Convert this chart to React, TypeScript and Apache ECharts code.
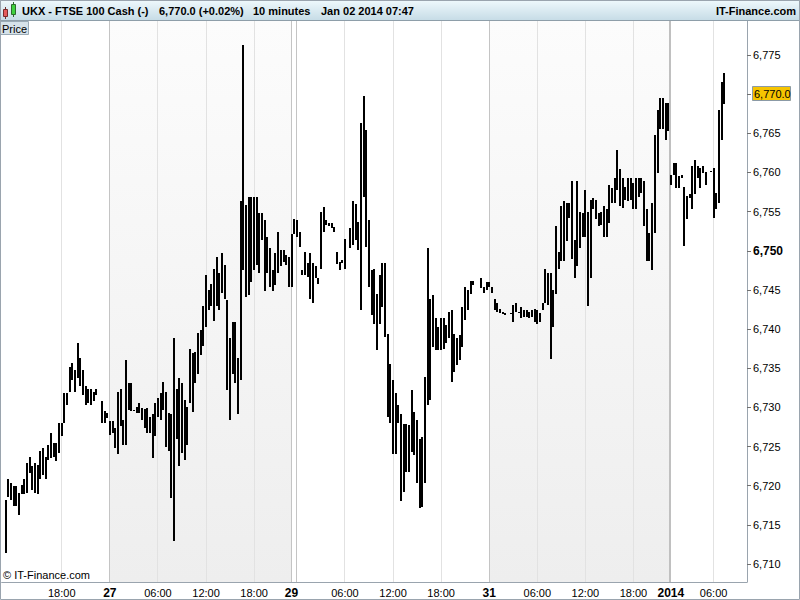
import React, { useEffect, useRef } from 'react';
import * as echarts from 'echarts';

const FONT = '"Liberation Sans", Arial, Helvetica, sans-serif';

// 20-minute slots per trading day: [label, start minute of day, number of slots]
const daySegments: [string, number, number][] = [
  ['Dec 26', 10 * 60 + 40, 40],
  ['Dec 27', 0, 68],
  ['Dec 29', 23 * 60 + 20, 2],
  ['Dec 30', 0, 72],
  ['Dec 31', 0, 68],
  ['Jan 02', 40, 29],
];

// [low, high] per 20-minute slot (null = no trade)
const bars26: (number[] | null)[] = [
  null,
  [6711.4, 6718.2], [6718.6, 6720.8], [6718.2, 6720.3], [6717.4, 6719.9], [6717.4, 6719.9], [6716.3, 6719.1], [6718.9, 6720.1], [6718.9, 6720.8], [6719.1, 6722.9], [6721.6, 6723.7],
  [6719.5, 6722.5], [6719.1, 6722.9], [6718.9, 6722.7], [6720.8, 6724.4], [6721.4, 6724.8], [6720.8, 6723.7], [6723.3, 6725.2], [6723.5, 6726.7], [6723.7, 6725.4], [6723.1, 6725.4],
  [6724.2, 6728.0], [6726.3, 6728.0], [6728.0, 6731.8], [6730.3, 6731.8], [6732.0, 6735.2], [6733.5, 6735.7], [6732.0, 6734.8], [6733.7, 6738.2], [6732.7, 6736.3], [6731.6, 6734.8],
  [6730.3, 6732.7], [6730.5, 6732.3], [6730.3, 6732.3], [6730.8, 6732.0], [6731.6, 6732.3], null, [6728.0, 6730.8], [6728.0, 6729.5], [6728.6, 6729.3],
];
const bars27: (number[] | null)[] = [
  [6726.5, 6728.2], [6726.7, 6728.2], [6724.8, 6727.4], [6724.0, 6732.0], [6727.6, 6732.3], [6725.2, 6728.4], [6725.2, 6736.1], [6729.7, 6733.1], [6729.5, 6733.1], [6729.5, 6729.7],
  [6729.3, 6730.1], [6729.3, 6730.5], [6728.4, 6729.9], [6727.4, 6729.8], [6726.7, 6729.9], [6726.7, 6728.8], [6723.5, 6729.1], [6726.3, 6730.5], [6728.8, 6731.2], [6728.4, 6731.8],
  [6729.7, 6733.3], [6725.0, 6732.0], [6724.4, 6729.3], [6718.4, 6729.1], [6712.9, 6738.8], [6725.9, 6732.3], [6722.5, 6733.7], [6724.2, 6733.1], [6723.3, 6731.0], [6725.2, 6730.1],
  [6730.5, 6737.4], [6729.4, 6736.9], [6733.1, 6737.1], [6734.3, 6739.5], [6736.7, 6739.9], [6737.8, 6742.9], [6740.3, 6746.9], [6742.4, 6745.0], [6742.9, 6745.8], [6741.0, 6747.7],
  [6742.9, 6749.2], [6742.4, 6747.1], [6744.6, 6749.7], [6743.9, 6748.2], [6732.2, 6743.7], [6728.4, 6738.8], [6734.3, 6740.9], [6733.1, 6740.9], [6729.2, 6736.3], [6733.5, 6756.3],
  [6747.5, 6776.3], [6744.1, 6755.8], [6744.3, 6756.9], [6746.0, 6756.9], [6747.5, 6756.9], [6748.2, 6756.9], [6747.1, 6754.8], [6751.4, 6754.8], [6744.8, 6753.9], [6747.1, 6751.8],
  [6745.4, 6750.3], [6744.8, 6747.5], [6745.6, 6749.7], [6747.1, 6752.4], [6748.0, 6750.1], [6748.6, 6750.1], [6748.2, 6749.5], [6745.4, 6749.2],
];
const bars29: (number[] | null)[] = [[6745.4, 6752.2], [6752.2, 6754.1]];
const bars30: (number[] | null)[] = [
  [6751.8, 6753.9], [6750.5, 6752.4], [6746.9, 6747.5], [6746.9, 6749.9], [6746.7, 6748.4], [6743.9, 6749.7], [6743.3, 6748.4], [6746.5, 6748.0], [6745.8, 6746.5], [6747.7, 6755.0],
  [6752.4, 6755.6], [6753.3, 6753.9], [6753.1, 6753.6], [6752.9, 6753.5], [6752.4, 6753.0], [6748.3, 6749.9], [6747.5, 6748.6], [6748.4, 6748.8], [6747.7, 6751.5], null,
  [6750.3, 6752.9], [6750.7, 6756.3], [6751.4, 6756.0], [6750.1, 6753.7], [6742.4, 6766.3], [6756.9, 6769.7], [6750.5, 6765.4], [6745.4, 6753.9], [6741.8, 6747.5], [6740.7, 6747.7],
  [6737.3, 6744.5], [6740.7, 6746.9], [6742.8, 6748.4], [6739.0, 6748.4], [6728.8, 6739.4], [6728.0, 6735.6], [6724.1, 6733.5], [6724.1, 6731.8], [6728.0, 6730.3], [6718.0, 6729.2],
  [6719.2, 6727.9], [6721.8, 6727.9], [6721.8, 6727.7], [6724.3, 6732.2], [6723.9, 6729.4], [6720.3, 6728.4], [6717.1, 6726.0], [6717.3, 6726.2], [6720.3, 6733.9], [6730.3, 6750.3],
  [6730.9, 6743.9], [6737.7, 6744.3], [6737.3, 6741.4], [6737.3, 6740.3], [6737.3, 6741.4], [6737.5, 6741.4], [6738.2, 6740.5], [6738.8, 6742.2], [6733.3, 6742.4], [6734.5, 6739.4],
  [6735.4, 6738.8], [6736.0, 6739.2], [6737.7, 6742.8], [6741.1, 6745.4], [6742.4, 6745.0], [6744.5, 6746.2], [6745.6, 6746.2], null, null, [6745.2, 6746.5],
  [6744.6, 6745.4], [6745.0, 6746.0],
];
const bars31: (number[] | null)[] = [
  [6745.4, 6746.0], [6744.6, 6745.4], [6742.4, 6743.9], [6742.2, 6743.3], [6742.0, 6742.6], [6741.9, 6742.2], [6741.8, 6742.1], null, [6741.9, 6742.1], [6740.9, 6743.1],
  [6742.2, 6743.3], [6742.0, 6742.2], [6741.4, 6742.8], [6741.6, 6742.4], [6741.6, 6742.4], [6741.4, 6742.2], [6741.6, 6742.4], [6740.9, 6742.6], [6740.7, 6742.4], [6740.9, 6742.0],
  [6742.4, 6743.3], [6743.3, 6747.7], [6743.1, 6747.1], [6736.2, 6747.1], [6740.3, 6745.0], [6744.5, 6753.1], [6747.7, 6749.9], [6748.7, 6755.7], [6748.7, 6756.3], [6751.2, 6756.1],
  [6754.2, 6756.1], [6748.9, 6758.9], [6746.5, 6751.4], [6748.0, 6758.9], [6750.4, 6755.0], [6751.8, 6754.8], [6751.8, 6757.8], [6742.9, 6755.0], [6746.5, 6756.5], [6755.3, 6756.7],
  [6754.0, 6756.5], [6753.1, 6754.8], [6753.3, 6755.0], [6751.8, 6755.7], [6751.8, 6755.3], [6753.5, 6758.4], [6756.1, 6758.0], [6756.1, 6759.3], [6757.8, 6762.9], [6755.7, 6760.4],
  [6755.5, 6759.3], [6756.5, 6758.2], [6756.3, 6759.3], [6756.5, 6759.3], [6755.3, 6758.7], [6755.3, 6759.3], [6756.9, 6759.3], [6757.4, 6759.3], [6753.1, 6758.9], [6748.7, 6755.3],
  [6748.7, 6752.3], [6747.6, 6756.1], [6752.3, 6764.8], [6759.9, 6768.0], [6765.5, 6769.5], [6765.5, 6769.5], [6764.2, 6768.9], [6765.3, 6768.9],
];
const bars02: (number[] | null)[] = [
  [6758.4, 6759.7], [6759.7, 6761.2], [6758.0, 6761.2], [6758.0, 6759.5], [6759.3, 6759.7], [6750.6, 6758.2], [6754.0, 6757.0], [6756.7, 6757.2], [6755.3, 6760.8], [6757.2, 6761.6],
  [6759.3, 6760.8], [6758.0, 6760.6], [6759.9, 6760.8], [6758.4, 6760.1], null, [6760.0, 6760.2], [6754.2, 6760.6], [6755.3, 6757.4], [6756.1, 6768.0], [6764.2, 6771.6],
  [6768.7, 6772.7], null, null, null, null, null, null, null, null,
];

// x-axis tick labels: [slot, text, bold]
const tickLabels: [string, string, boolean][] = [
  ['Dec 26 18:00', '18:00', false],
  ['Dec 27 00:00', '27', true],
  ['Dec 27 06:00', '06:00', false],
  ['Dec 27 12:00', '12:00', false],
  ['Dec 27 18:00', '18:00', false],
  ['Dec 29 23:20', '29', true],
  ['Dec 30 06:00', '06:00', false],
  ['Dec 30 12:00', '12:00', false],
  ['Dec 30 18:00', '18:00', false],
  ['Dec 31 00:00', '31', true],
  ['Dec 31 06:00', '06:00', false],
  ['Dec 31 12:00', '12:00', false],
  ['Dec 31 18:00', '18:00', false],
  ['Jan 02 00:40', '2014', true],
  ['Jan 02 06:00', '06:00', false],
];
const dayStartSlots = ['Dec 27 00:00', 'Dec 29 23:20', 'Dec 30 00:00', 'Dec 31 00:00', 'Jan 02 00:40'];
const shadedDays: [string, string][] = [
  ['Dec 27 00:00', 'Dec 29 23:20'],
  ['Dec 31 00:00', 'Jan 02 00:40'],
];

const lastPrice = 6770.0;
const yMin = 6707.7;
const yMax = 6779.34;

const pad = (n: number) => (n < 10 ? '0' + n : '' + n);
const categories: string[] = [];
daySegments.forEach(([day, start, count]) => {
  for (let k = 0; k < count; k++) {
    const m = start + k * 20;
    categories.push(`${day} ${pad(Math.floor(m / 60))}:${pad(m % 60)}`);
  }
});
const allBars = [...bars26, ...bars27, ...bars29, ...bars30, ...bars31, ...bars02];

export default function App() {
  const ref = useRef<HTMLDivElement>(null);
  useEffect(() => {
    document.body.style.margin = '0';
    const chart = echarts.init(ref.current!, null, { renderer: 'svg' });
    const labelMap: Record<string, [string, boolean]> = {};
    tickLabels.forEach(([s, t, b]) => (labelMap[s] = [t, b]));
    const idx = (s: string) => categories.indexOf(s);

    const barData: number[][] = [];
    allBars.forEach((b, i) => {
      if (b) barData.push([i, b[0], b[1]]);
    });
    const lineData: number[][] = [];
    tickLabels.forEach(([s]) => {
      if (!dayStartSlots.includes(s)) lineData.push([idx(s), 0]);
    });
    dayStartSlots.forEach((s) => lineData.push([idx(s), s.startsWith('Jan') ? 2 : 1]));
    const shadeData = shadedDays.map(([a, b]) => [idx(a), idx(b)]);

    const txt = (x: number, y: number, text: string, font: string, extra: any = {}) => ({
      type: 'text',
      x,
      y,
      z: 100,
      silent: true,
      style: { text, font, fill: '#000', verticalAlign: 'middle', textVerticalAlign: 'middle', ...extra },
    });

    const staticGraphics: any[] = [
      {
        type: 'rect',
        z: 90,
        silent: true,
        shape: { x: 0.5, y: 0.5, width: 799, height: 20 },
        style: {
          fill: new echarts.graphic.LinearGradient(0, 0, 0, 1, [
            { offset: 0, color: '#eef8fc' },
            { offset: 1, color: '#c6dce6' },
          ]),
          stroke: '#8e9ea9',
          lineWidth: 1,
        },
      },
      { type: 'line', z: 95, silent: true, shape: { x1: 5.5, y1: 7, x2: 5.5, y2: 19 }, style: { stroke: '#703030', lineWidth: 1 } },
      { type: 'rect', z: 96, silent: true, shape: { x: 3.5, y: 9.5, width: 4, height: 7 }, style: { fill: '#e45b5b', stroke: '#7a2a2a', lineWidth: 1 } },
      { type: 'line', z: 95, silent: true, shape: { x1: 13.5, y1: 2, x2: 13.5, y2: 17 }, style: { stroke: '#2d6b2d', lineWidth: 1 } },
      { type: 'rect', z: 96, silent: true, shape: { x: 11.5, y: 4.5, width: 4, height: 10 }, style: { fill: '#3fd23f', stroke: '#2d6b2d', lineWidth: 1 } },
      txt(22, 11, 'UKX - FTSE 100 Cash (-)', `bold 11px ${FONT}`),
      txt(159, 11, '6,770.0 (+0.02%)', `bold 11px ${FONT}`),
      txt(253, 11, '10 minutes', `bold 11px ${FONT}`),
      txt(321, 11, 'Jan 02 2014 07:47', `bold 11px ${FONT}`),
      txt(796, 11, 'IT-Finance.com', `bold 11px ${FONT}`, { align: 'right', textAlign: 'right' }),
      {
        type: 'rect',
        z: 90,
        silent: true,
        shape: { x: 0.5, y: 21.5, width: 28, height: 13 },
        style: { fill: '#d6e2e9', stroke: '#9aaab5', lineWidth: 1 },
      },
      txt(2, 28.5, 'Price', `11px ${FONT}`),
      txt(3, 575, '© IT-Finance.com', `11px ${FONT}`),
      {
        type: 'rect',
        z: 99,
        silent: true,
        shape: { x: 0.5, y: 0.5, width: 799, height: 599 },
        style: { fill: 'none', stroke: '#9aa4ae', lineWidth: 1 },
      },
    ];

    chart.setOption({
      animation: false,
      backgroundColor: '#ffffff',
      grid: { left: 0, right: 53, top: 21, bottom: 18, containLabel: false },
      xAxis: {
        type: 'category',
        data: categories,
        boundaryGap: true,
        axisLine: { show: true, lineStyle: { color: '#9aa4ae' } },
        axisTick: { show: false },
        splitLine: { show: false },
        axisLabel: {
          interval: 0,
          margin: 5,
          fontSize: 11,
          fontFamily: FONT,
          color: '#000',
          formatter: (v: string) => {
            const l = labelMap[v];
            if (!l) return '';
            return l[1] ? `{d|${l[0]}}` : l[0];
          },
          rich: { d: { fontWeight: 'bold', fontSize: 12, fontFamily: FONT, color: '#000' } },
        },
      },
      yAxis: {
        type: 'value',
        position: 'right',
        min: yMin,
        max: yMax,
        splitNumber: 14,
        minInterval: 5,
        maxInterval: 5,
        axisLine: { show: true, lineStyle: { color: '#9aa4ae' } },
        axisTick: { show: true, length: 4, lineStyle: { color: '#707070' } },
        splitLine: { show: false },
        axisLabel: {
          margin: 6,
          fontSize: 11,
          fontFamily: FONT,
          color: '#000',
          showMinLabel: false,
          showMaxLabel: false,
          formatter: (v: number) => {
            if (Math.abs(v - lastPrice) < 0.01) return '';
            const s = Math.round(v).toLocaleString('en-US');
            return Math.abs(v - 6750) < 0.01 ? `{b|${s}}` : s;
          },
          rich: { b: { fontWeight: 'bold', fontSize: 12, fontFamily: FONT, color: '#000' } },
        },
      },
      series: [
        {
          type: 'custom',
          name: 'shade',
          z: 1,
          silent: true,
          data: shadeData,
          encode: { x: [0, 1] },
          renderItem: (params: any, api: any) => {
            const cs = params.coordSys;
            const x1 = api.coord([api.value(0), yMin])[0];
            const x2 = api.coord([api.value(1), yMin])[0];
            return {
              type: 'rect',
              shape: { x: x1, y: cs.y, width: x2 - x1, height: cs.height },
              style: {
                fill: new echarts.graphic.LinearGradient(0, 0, 0, 1, [
                  { offset: 0, color: '#fcfcfc' },
                  { offset: 1, color: '#eeeeee' },
                ]),
              },
            };
          },
        },
        {
          type: 'custom',
          name: 'grid',
          z: 2,
          silent: true,
          data: lineData,
          encode: { x: 0 },
          renderItem: (params: any, api: any) => {
            const cs = params.coordSys;
            const kind = api.value(1);
            const cx = api.coord([api.value(0), yMin])[0];
            const x = Math.floor(cx) + (kind === 2 ? 0 : 0.5);
            return {
              type: 'line',
              shape: { x1: x, y1: cs.y, x2: x, y2: cs.y + cs.height },
              style: {
                stroke: kind === 0 ? '#e2e2e2' : kind === 1 ? '#c4c4c4' : '#c0c0c0',
                lineWidth: kind === 2 ? 2 : 1,
              },
            };
          },
        },
        {
          type: 'custom',
          name: 'Price',
          z: 3,
          silent: true,
          data: barData,
          encode: { x: 0, y: [1, 2] },
          renderItem: (params: any, api: any) => {
            const i = api.value(0);
            const lo = api.value(1);
            const hi = api.value(2);
            const pHi = api.coord([i, hi]);
            const pLo = api.coord([i, lo]);
            const y = Math.round(pHi[1]);
            const h = Math.max(1, Math.round(pLo[1]) - y);
            return {
              type: 'rect',
              shape: { x: Math.round(pHi[0] - 1), y, width: 2, height: h },
              style: { fill: '#000' },
            };
          },
        },
      ],
      graphic: staticGraphics,
    });

    // last-price marker on the right axis, placed through the y scale
    const py = chart.convertToPixel({ yAxisIndex: 0 }, lastPrice) as number;
    const priceText = lastPrice.toLocaleString('en-US', { minimumFractionDigits: 1, maximumFractionDigits: 1 });
    chart.setOption({
      graphic: [
        ...staticGraphics,
        {
          type: 'rect',
          z: 97,
          silent: true,
          shape: { x: 752.5, y: Math.round(py) - 7.5, width: 38, height: 14 },
          style: { fill: '#f6c400', stroke: '#8b9aa6', lineWidth: 1 },
        },
        txt(754, Math.round(py), priceText, `11px ${FONT}`),
      ],
    });
    return () => chart.dispose();
  }, []);
  return <div ref={ref} style={{ position: 'fixed', left: 0, top: 0, width: 800, height: 600 }} />;
}
